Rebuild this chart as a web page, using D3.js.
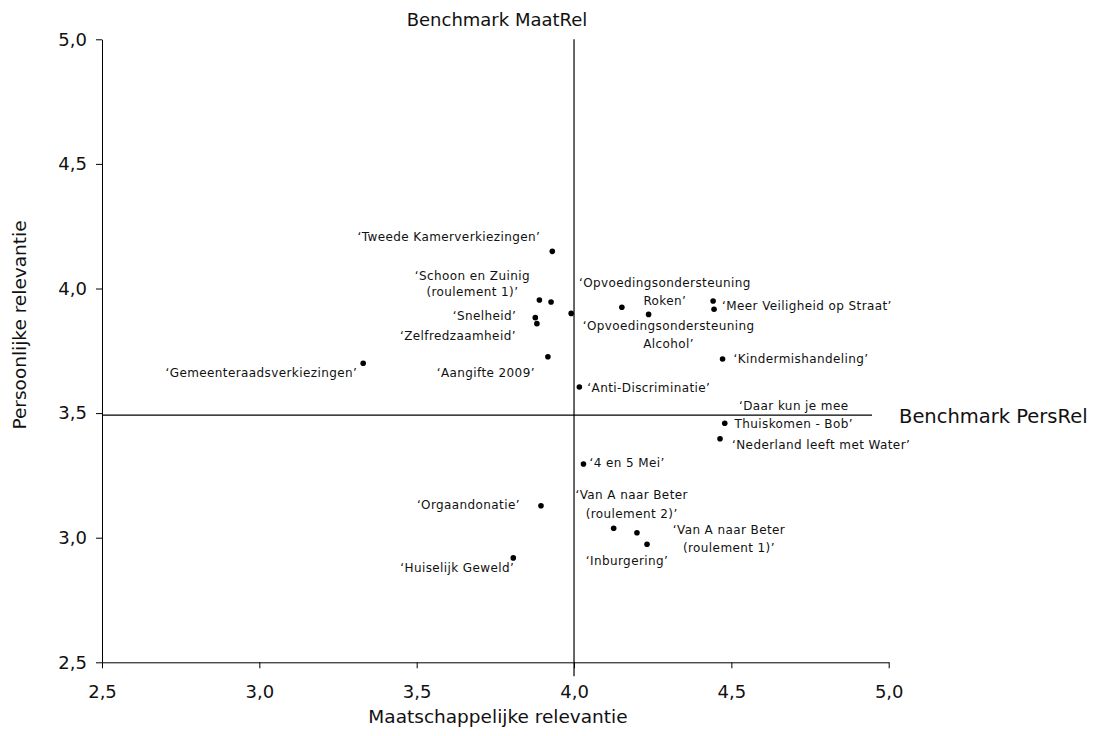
<!DOCTYPE html>
<html>
<head>
<meta charset="utf-8">
<script src="https://cdn.jsdelivr.net/npm/d3@7"></script>
<style>
  body { margin: 0; background: #fff; }
  svg text { font-family: "DejaVu Sans", Verdana, sans-serif; fill: #111; }
</style>
</head>
<body>
<div id="chart"></div>
<script>
    // Data: campaign name, societal relevance (x), personal relevance (y)
    const names = [
        "‘Tweede Kamerverkiezingen’",
        "‘Schoon en Zuinig\n(roulement 1)’",
        "",
        "",
        "‘Snelheid’",
        "‘Zelfredzaamheid’",
        "‘Gemeenteraadsverkiezingen’",
        "‘Aangifte 2009’",
        "‘Anti-Discriminatie’",
        "‘Opvoedingsondersteuning\nRoken’",
        "‘Opvoedingsondersteuning\nAlcohol’",
        "",
        "‘Meer Veiligheid op Straat’",
        "‘Kindermishandeling’",
        "‘Daar kun je mee\nThuiskomen - Bob’",
        "‘Nederland leeft met Water’",
        "‘4 en 5 Mei’",
        "‘Orgaandonatie’",
        "‘Huiselijk Geweld’",
        "‘Van A naar Beter\n(roulement 2)’",
        "‘Van A naar Beter\n(roulement 1)’",
        "‘Inburgering’"
    ];
    const maatRel = [3.931, 3.890, 3.927, 3.991, 3.877, 3.882, 3.330, 3.917, 4.017, 4.152, 4.237,
        4.442, 4.445, 4.472, 4.479, 4.464, 4.030, 3.895, 3.807, 4.126, 4.200, 4.232];
    const persRel = [4.149, 3.954, 3.946, 3.900, 3.883, 3.859, 3.700, 3.726, 3.605, 3.925, 3.896,
        3.950, 3.917, 3.717, 3.459, 3.397, 3.296, 3.128, 2.919, 3.038, 3.020, 2.974];

    const benchMaatRel = 4.0;
    const benchPersRel = 3.492;
    const benchPersEnd = 4.947; // horizontal benchmark stops short of the axis end

    const xTicks = [2.5, 3.0, 3.5, 4.0, 4.5, 5.0];
    const yTicks = [2.5, 3.0, 3.5, 4.0, 4.5, 5.0];

    // Label placement relative to each dot: [dx, dy, anchor, lineHeight]
    const labelLayout = [
        [-12, -15, "end", 0],
        [-67, -24, "middle", 16],
        [0, 0, "start", 0],
        [0, 0, "start", 0],
        [-19, -2, "end", 0],
        [-21, 12, "end", 0],
        [-6, 10, "end", 0],
        [-13, 16, "end", 0],
        [8, 1, "start", 0],
        [43, -24, "middle", 17.7],
        [20, 11, "middle", 18.3],
        [0, 0, "start", 0],
        [8, -3, "start", 0],
        [11, 0, "start", 0],
        [69, -18, "middle", 18.3],
        [12, 6, "start", 0],
        [6, -1, "start", 0],
        [-21, -1, "end", 0],
        [1, 10, "end", 0],
        [18, -33, "middle", 18.3],
        [92, -3, "middle", 18],
        [-20, 17, "middle", 0]
    ];

    const data = names.map((n, i) => ({ name: n, x: maatRel[i], y: persRel[i], i: i }));

    const margin = { top: 39.3, left: 102 },
        width = 786.7,
        height = 623;

    const svg = d3.select("#chart")
        .append("svg")
        .attr("width", 1096)
        .attr("height", 736);

    const g = svg.append("g")
        .attr("transform", `translate(${margin.left},${margin.top})`);

    const x = d3.scaleLinear().domain([2.5, 5]).range([0, width]);
    const y = d3.scaleLinear().domain([2.5, 5]).range([height, 0]);

    const nl = d3.formatLocale({ decimal: ",", thousands: ".", grouping: [3], currency: ["€", ""] });
    const fmt = nl.format(".1f");

    // Axes
    const xAxis = g.append("g")
        .attr("transform", `translate(0,${height})`)
        .call(d3.axisBottom(x).tickValues(xTicks).tickFormat(fmt).tickSize(6).tickSizeOuter(0).tickPadding(17));
    const yAxis = g.append("g")
        .call(d3.axisLeft(y).tickValues(yTicks).tickFormat(fmt).tickSize(6).tickSizeOuter(0).tickPadding(9));

    [xAxis, yAxis].forEach(a => {
        a.selectAll("path, line").attr("stroke", "#000").attr("stroke-width", 1);
        a.selectAll("text").style("font-size", "18px").attr("fill", "#222");
    });

    // Benchmark lines
    g.append("line")
        .attr("x1", x(benchMaatRel)).attr("x2", x(benchMaatRel))
        .attr("y1", 0).attr("y2", height + 14)
        .attr("stroke", "#000").attr("stroke-width", 1.2);
    g.append("line")
        .attr("x1", 0).attr("x2", x(benchPersEnd))
        .attr("y1", y(benchPersRel)).attr("y2", y(benchPersRel))
        .attr("stroke", "#000").attr("stroke-width", 1.2);

    g.append("text")
        .attr("x", 395).attr("y", -13)
        .attr("text-anchor", "middle")
        .style("font-size", "18px")
        .text("Benchmark MaatRel");
    g.append("text")
        .attr("x", 797).attr("y", y(benchPersRel) + 8)
        .style("font-size", "19.5px")
        .text("Benchmark PersRel");

    // Axis titles
    g.append("text")
        .attr("x", 396).attr("y", height + 61)
        .attr("text-anchor", "middle")
        .style("font-size", "18.5px")
        .text("Maatschappelijke relevantie");
    svg.append("text")
        .attr("transform", "rotate(-90)")
        .attr("x", -325).attr("y", 26)
        .attr("text-anchor", "middle")
        .style("font-size", "18.5px")
        .text("Persoonlijke relevantie");

    // Points
    g.selectAll("circle.pt")
        .data(data)
        .enter().append("circle")
        .attr("class", "pt")
        .attr("cx", d => x(d.x))
        .attr("cy", d => y(d.y))
        .attr("r", 2.8)
        .attr("fill", "#000");

    // Labels
    const labels = g.selectAll("text.lbl")
        .data(data.filter(d => d.name))
        .enter().append("text")
        .attr("class", "lbl")
        .attr("x", d => x(d.x) + labelLayout[d.i][0])
        .attr("y", d => y(d.y) + labelLayout[d.i][1])
        .attr("text-anchor", d => labelLayout[d.i][2])
        .style("font-size", "12px")
        .style("letter-spacing", "0.4px");

    labels.each(function (d) {
        const lines = d.name.split("\n");
        const t = d3.select(this);
        lines.forEach((ln, k) => {
            t.append("tspan")
                .attr("x", x(d.x) + labelLayout[d.i][0])
                .attr("dy", k === 0 ? "0.35em" : labelLayout[d.i][3])
                .text(ln);
        });
    });
</script>
</body>
</html>
